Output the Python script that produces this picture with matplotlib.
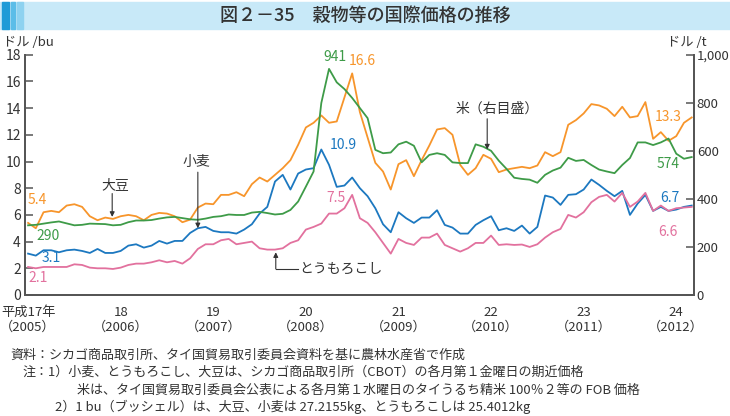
import matplotlib
matplotlib.use("Agg")
import matplotlib.pyplot as plt
from matplotlib.patches import Rectangle
from matplotlib.ticker import FuncFormatter

plt.rcParams["font.family"] = ["Noto Sans CJK JP", "DejaVu Sans"]

# monthly, Jan 2005 (H17) .. Mar 2012 (H24)
soybean = [5.4, 5.0, 6.2, 6.3, 6.2, 6.7, 6.8, 6.6, 5.9, 5.6, 5.8, 5.7, 5.9, 6.0, 5.9, 5.6, 6.0,
           6.15, 6.1, 5.9, 5.45, 5.65, 6.55, 6.85, 6.8, 7.5, 7.5, 7.7, 7.4, 8.3, 8.8, 8.5, 9.0, 9.5, 10.1,
           11.25, 12.55, 12.9, 13.45, 12.9, 13.0, 14.8, 16.6, 13.7, 11.8, 9.9, 9.25, 7.9,
           9.8, 10.1, 8.9, 10.1, 11.2, 12.4, 12.5, 12.0, 9.75, 9.0, 9.5, 10.5, 10.2, 9.2, 9.4,
           9.5, 9.6, 9.5, 9.7, 10.7, 10.4, 10.7, 12.75, 13.1, 13.6, 14.3, 14.2, 13.95, 13.4, 14.1,
           13.3, 13.4, 14.45, 11.7, 12.2, 11.55, 11.9, 12.9, 13.3]
wheat = [3.1, 2.95, 3.35, 3.35, 3.2, 3.35, 3.4, 3.3, 3.15, 3.45, 3.15, 3.15, 3.3, 3.7, 3.8, 3.55,
         3.7, 4.05, 3.85, 4.05, 4.05, 4.65, 5.0,
         5.1, 4.8, 4.7, 4.7, 4.6, 4.9, 5.3, 6.1, 6.6, 8.5, 9.0, 7.9, 9.1, 9.4, 9.5, 10.9, 9.75,
         8.1, 8.2, 8.8, 8.0, 7.4, 6.5, 5.3, 4.7,
         6.2, 5.75, 5.4, 5.8, 5.8, 6.35, 5.25, 5.05, 4.6, 4.6, 5.25, 5.6, 5.9, 4.85, 5.0, 4.8,
         5.2, 4.6, 5.1, 7.45, 7.3, 6.75, 7.5, 7.55, 7.9, 8.65, 8.25, 7.8, 7.4, 7.8, 6.0, 6.85,
         7.5, 6.3, 6.6, 6.3, 6.4, 6.6, 6.7]
corn = [2.1, 2.0, 2.1, 2.1, 2.1, 2.1, 2.3, 2.25, 2.05, 2.0, 2.0, 1.95, 2.05, 2.25, 2.35, 2.35,
        2.45, 2.6, 2.45, 2.55, 2.35, 2.75, 3.45,
        3.8, 3.8, 4.1, 4.2, 3.8, 3.9, 4.0, 3.5, 3.4, 3.4, 3.5, 3.9, 4.1, 4.9, 5.1, 5.35, 6.1,
        6.1, 6.5, 7.5, 5.75, 5.4, 4.7, 3.9, 3.1,
        4.2, 3.9, 3.75, 4.3, 4.3, 4.6, 3.75, 3.5, 3.25, 3.5, 3.9, 3.9, 4.45, 3.75, 3.8, 3.75,
        3.78, 3.6, 3.8, 4.3, 4.7, 4.95, 6.0, 5.8, 6.2, 6.95, 7.35, 7.5, 7.0, 7.65, 6.6, 7.0,
        7.65, 6.3, 6.7, 6.3, 6.5, 6.55, 6.6]
rice = [290, 292, 297, 302, 306, 298, 290, 292, 297, 296, 295, 290, 292, 303, 310, 310, 312,
        318, 323, 325, 320, 315, 313, 318, 325, 328, 335, 333, 333, 343, 346, 341, 335, 338,
        354, 389, 451, 514, 799, 941, 885, 857, 820, 778, 736, 604, 590, 593,
        627, 638, 621, 552, 583, 590, 583, 552, 549, 549, 627, 617, 600, 559, 525, 488, 483,
        480, 467, 500, 518, 530, 571, 558, 562, 541, 522, 514, 507, 541, 570, 635, 635, 624,
        635, 651, 588, 567, 574]
months = list(range(len(soybean)))

year_ticks = [0, 12, 24, 36, 48, 60, 72, 84]
year_labels = ["平成17年\n（2005）", "18\n（2006）", "19\n（2007）", "20\n（2008）",
               "21\n（2009）", "22\n（2010）", "23\n（2011）", "24\n（2012）"]

ORANGE = "#F7952B"
GREEN = "#3E9B48"
BLUE = "#1C78C0"
PINK = "#E2719E"
DARK = "#333333"

fig = plt.figure(figsize=(7.3, 4.16), dpi=100)

# title bar
fig.patches.append(Rectangle((0, 1 - 29 / 416), 1, 27 / 416, transform=fig.transFigure,
                             color="#C8E9F8", zorder=0))
for x0, w, c in [(2, 7, "#1E9BD7"), (11, 4, "#5BBDE8"), (17, 6, "#8ED2F0")]:
    fig.patches.append(Rectangle((x0 / 730, 1 - 29 / 416), w / 730, 27 / 416,
                                 transform=fig.transFigure, color=c, zorder=1))
fig.text(0.5, 1 - 16 / 416, "図２－35　穀物等の国際価格の推移", ha="center", va="center",
         fontsize=13, color=DARK, fontweight="medium")

ax = fig.add_axes([25 / 730, 1 - 295 / 416, 669 / 730, 240.3 / 416])
ax2 = ax.twinx()

ax.plot(months, soybean, color=ORANGE, lw=1.3)
ax.plot(months, wheat, color=BLUE, lw=1.3)
ax.plot(months, corn, color=PINK, lw=1.3)
ax2.plot(months, rice, color=GREEN, lw=1.3)

ax.set_xlim(-0.4, 86.3)
ax.set_ylim(0, 18)
ax2.set_ylim(0, 1000)
ax.set_yticks(range(0, 19, 2))
ax2.set_yticks(range(0, 1001, 200))
ax2.yaxis.set_major_formatter(FuncFormatter(lambda v, p: f"{int(v):,}"))
ax.set_xticks(year_ticks)
ax.set_xticklabels(year_labels, fontsize=9.5, color=DARK, linespacing=1.2)

for a in (ax, ax2):
    a.spines["top"].set_visible(False)
    for s in ("left", "right", "bottom"):
        a.spines[s].set_color("#555555")
        a.spines[s].set_linewidth(1.3)
ax.tick_params(axis="x", length=0, pad=8)
ax.tick_params(axis="y", direction="in", length=6, width=1.1, color="#555555",
               labelsize=10, labelcolor=DARK, pad=3)
ax2.tick_params(axis="y", direction="in", length=6, width=1.1, color="#555555",
                labelsize=9.5, labelcolor=DARK, pad=2)

fig.text(3 / 730, 1 - 42 / 416, "ドル /bu", ha="left", va="center", fontsize=9.5, color=DARK)
fig.text(667 / 730, 1 - 42 / 416, "ドル /t", ha="left", va="center", fontsize=9.5, color=DARK)

T = ax.transData
labels = [
    (-0.1, 7.15, "5.4", ORANGE, "left"),
    (1.1, 4.45, "290", GREEN, "left"),
    (1.8, 2.75, "3.1", BLUE, "left"),
    (0.1, 1.3, "2.1", PINK, "left"),
    (39.8, 17.85, "941", GREEN, "center"),
    (43.3, 17.5, "16.6", ORANGE, "center"),
    (40.9, 11.2, "10.9", BLUE, "center"),
    (39.9, 7.3, "7.5", PINK, "center"),
    (82.9, 13.35, "13.3", ORANGE, "center"),
    (82.9, 9.8, "574", GREEN, "center"),
    (83.2, 7.3, "6.7", BLUE, "center"),
    (82.9, 4.7, "6.6", PINK, "center"),
]
for x, y, s, c, ha in labels:
    ax2.text(x, y, s, transform=T, color=c, fontsize=10, ha=ha, va="center")

arrow = dict(arrowstyle="-|>", color=DARK, lw=0.8, mutation_scale=7, shrinkA=0, shrinkB=0)
callouts = [
    ("大豆", (11.3, 8.25), (10.9, 7.6), (10.9, 5.85)),
    ("小麦", (21.8, 10.0), (22.0, 9.2), (22.0, 5.0)),
    ("米（右目盛）", (60.8, 13.95), (59.5, 13.2), (59.5, 10.9)),
]
for s, tpos, start, end in callouts:
    ax2.text(*tpos, s, transform=T, fontsize=10, color=DARK, ha="center", va="center")
    ax2.annotate("", xy=end, xytext=start, xycoords=T, textcoords=T, arrowprops=arrow)

ax2.plot([32.1, 35.0], [1.95, 1.95], color=DARK, lw=0.8, transform=T)
ax2.annotate("", xy=(32.1, 3.2), xytext=(32.1, 1.95), xycoords=T, textcoords=T,
             arrowprops=arrow)
ax2.text(35.2, 1.95, "とうもろこし", transform=T, fontsize=10, color=DARK,
         ha="left", va="center")

notes = [
    (10, 355, "資料：シカゴ商品取引所、タイ国貿易取引委員会資料を基に農林水産省で作成"),
    (22, 372, "注：1）小麦、とうもろこし、大豆は、シカゴ商品取引所（CBOT）の各月第１金曜日の期近価格"),
    (77, 390, "米は、タイ国貿易取引委員会公表による各月第１水曜日のタイうるち精米 100％２等の FOB 価格"),
    (55, 407, "2）1 bu（ブッシェル）は、大豆、小麦は 27.2155kg、とうもろこしは 25.4012kg"),
]
for x, y, s in notes:
    fig.text(x / 730, 1 - y / 416, s, ha="left", va="center", fontsize=9.4, color=DARK)

fig.savefig("out.png", dpi=100)
